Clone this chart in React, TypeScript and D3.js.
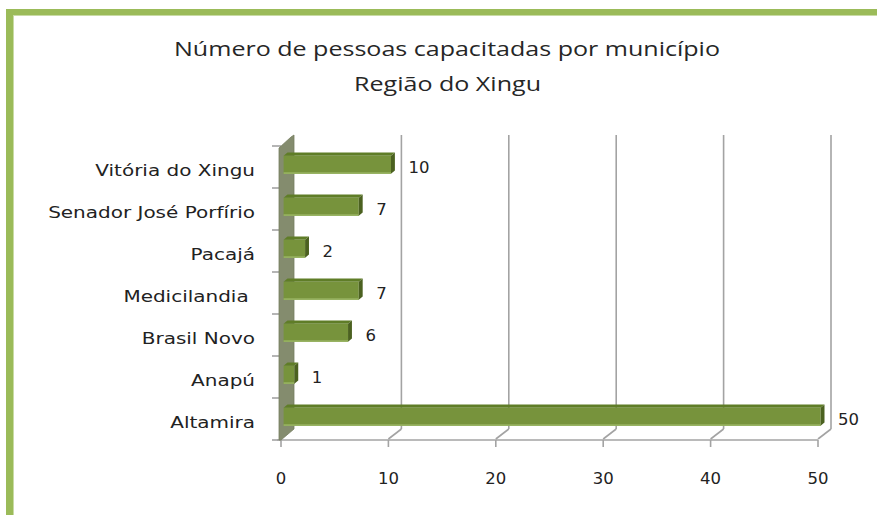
import React from "react";
import * as d3 from "d3";

const categories = [
  "Vitória do Xingu",
  "Senador José Porfírio",
  "Pacajá",
  "Medicilandia ",
  "Brasil Novo",
  "Anapú",
  "Altamira",
];
const values = [10, 7, 2, 7, 6, 1, 50];
const tickValues = [0, 10, 20, 30, 40, 50];
const titleLines = ["Número de pessoas capacitadas por município", "Região do Xingu"];

const W = 877;
const H = 515;
const DX = 13;
const DY = -11;
const F0 = 0.2;
const F1 = 0.5;

export default function App() {
  const x = d3.scaleLinear().domain([0, 50]).range([281, 818]);
  const y = d3.scaleBand<string>().domain(categories).range([146, 440]).padding(0);
  const bw = y.bandwidth();
  const barH = bw * 0.43;
  const yTop = 146;
  const yBot = 440;
  const grid = "#a3a3a3";
  const x0 = x(0);

  const pts = (p: [number, number][]) => p.map((q) => q.join(",")).join(" ");

  return (
    <svg
      width={W}
      height={H}
      style={{ position: "absolute", left: 0, top: 0, background: "#fff" }}
    >
      <rect x={0} y={0} width={W} height={H} fill="#fff" />
      {/* frame */}
      <rect x={6} y={9} width={W - 6} height={6} fill="#9bbb59" />
      <rect x={6} y={9} width={8} height={H - 9} fill="#9bbb59" />
      <rect x={14} y={15} width={W - 14} height={1} fill="#c9dba5" />
      <rect x={13} y={15} width={1} height={H - 15} fill="#c9dba5" />

      {/* title */}
      <text
        x={447}
        y={56}
        textAnchor="middle"
        fontFamily="Open Sans"
        fontSize={20}
        fill="#262626"
        textLength={546}
        lengthAdjust="spacingAndGlyphs"
      >
        {titleLines[0]}
      </text>
      <text
        x={447.5}
        y={91}
        textAnchor="middle"
        fontFamily="Open Sans"
        fontSize={20}
        fill="#262626"
        textLength={187}
        lengthAdjust="spacingAndGlyphs"
      >
        {titleLines[1]}
      </text>

      {/* gridlines on back wall + floor diagonals */}
      {tickValues.slice(1).map((v) => (
        <g key={"g" + v}>
          <line
            x1={x(v) + DX}
            x2={x(v) + DX}
            y1={yTop + DY}
            y2={yBot + DY}
            stroke={grid}
            strokeWidth={1.6}
          />
          <line
            x1={x(v) + DX}
            y1={yBot + DY}
            x2={x(v)}
            y2={yBot - 1}
            stroke={grid}
            strokeWidth={1.6}
          />
        </g>
      ))}

      {/* front value axis */}
      <line x1={277} x2={x(50)} y1={yBot} y2={yBot} stroke={grid} strokeWidth={1.6} />
      {tickValues.map((v) => (
        <line key={"t" + v} x1={x(v)} x2={x(v)} y1={yBot} y2={yBot + 7} stroke={grid} strokeWidth={1.6} />
      ))}
      {tickValues.map((v) => (
        <text
          key={"tl" + v}
          x={x(v)}
          y={478}
          textAnchor="middle"
          dominantBaseline="central"
          fontFamily="DejaVu Sans"
          fontSize={16.5}
          fill="#222"
        >
          {v}
        </text>
      ))}

      {/* category ticks */}
      {d3.range(categories.length + 1).map((i) => (
        <line
          key={"ct" + i}
          x1={272}
          x2={x0}
          y1={yTop + i * bw}
          y2={yTop + i * bw}
          stroke={grid}
          strokeWidth={1.6}
        />
      ))}

      {/* side wall */}
      <polygon
        points={pts([
          [x0 - 2, yTop + 2],
          [x0 + DX - 3, yTop + DY + 2],
          [x0 + DX, yTop + DY],
          [x0 + DX, yBot + DY],
          [x0, yBot],
          [x0 - 2, yBot],
        ])}
        fill="#848c6e"
        stroke="#767d60"
        strokeWidth={0.8}
      />

      {/* bars */}
      {categories.map((c, i) => {
        const v = values[i];
        const yc = (y(c) as number) + bw / 2;
        const yt = yc - barH / 2 + F0 * DY;
        const xa = x(0) + F0 * DX;
        const xb = x(v) + F0 * DX;
        const ddx = (F1 - F0) * DX;
        const ddy = (F1 - F0) * DY;
        return (
          <g key={"b" + c}>
            <polygon
              points={pts([
                [xa, yt],
                [xb, yt],
                [xb + ddx, yt + ddy],
                [xa + ddx, yt + ddy],
              ])}
              fill="#5f7d27"
            />
            <rect x={xa} y={yt} width={xb - xa} height={barH} fill="#77933c" />
            <rect x={xa} y={yt + barH - 1.5} width={xb - xa} height={1.5} fill="#9ab665" />
            <polygon
              points={pts([
                [xb, yt],
                [xb + ddx, yt + ddy],
                [xb + ddx, yt + ddy + barH],
                [xb, yt + barH],
              ])}
              fill="#4b6120"
            />
          </g>
        );
      })}

      {/* value labels */}
      {categories.map((c, i) => (
        <text
          key={"v" + c}
          x={x(values[i]) + DX + 7}
          y={(y(c) as number) + bw / 2}
          dominantBaseline="central"
          fontFamily="DejaVu Sans"
          fontSize={16.5}
          fill="#222"
        >
          {values[i]}
        </text>
      ))}

      {/* category labels */}
      {categories.map((c) => (
        <text
          key={"c" + c}
          transform={`translate(255,${(y(c) as number) + bw / 2 + 3}) scale(1.29,1)`}
          x={0}
          y={0}
          textAnchor="end"
          dominantBaseline="central"
          fontFamily="DejaVu Sans"
          fontSize={15.5}
          fill="#222"
          style={{ whiteSpace: "pre" }}
        >
          {c}
        </text>
      ))}
    </svg>
  );
}
